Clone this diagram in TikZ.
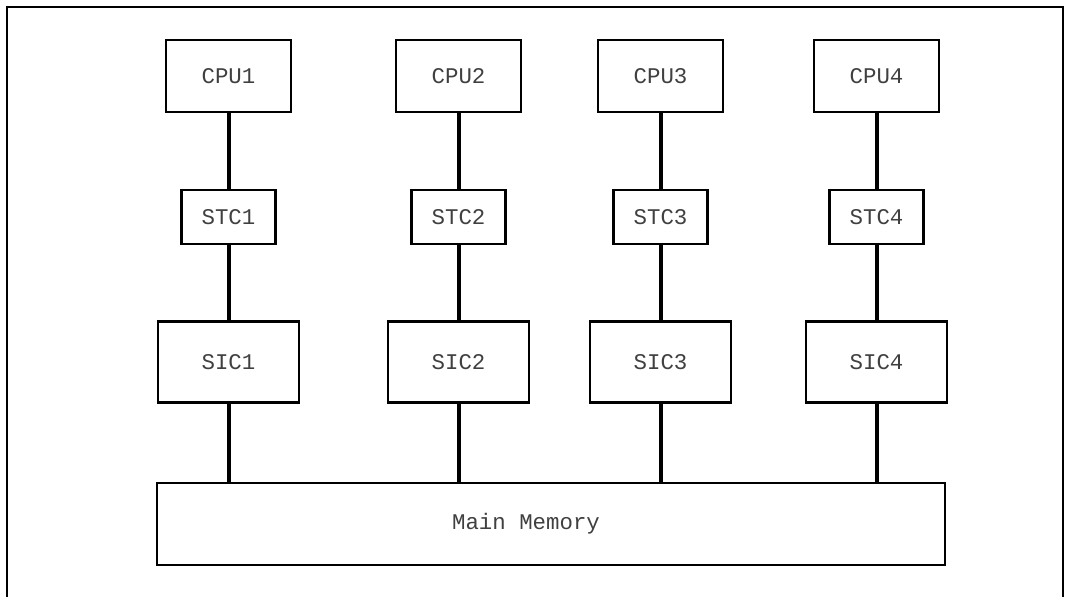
\documentclass[tikz,border=0pt]{standalone}
\usepackage{fontspec}
\setmonofont{Liberation Mono}
\usepackage{tikz}

\begin{document}
\begin{tikzpicture}[x=0.5pt, y=-0.5pt,
    unit/.style={draw, line width=1.25pt, inner sep=0pt, font=\ttfamily\fontsize{11.2}{13}\selectfont, text=black!75},
    cpubox/.style={unit, minimum width=62.5pt, minimum height=36pt},
    stcbox/.style={unit, minimum width=47pt, minimum height=27pt},
    sicbox/.style={unit, minimum width=70.5pt, minimum height=40.5pt},
    bus/.style={line width=2pt}]
        \useasboundingbox (0, 0) rectangle (1069, 597);
        \draw[line width=0.75pt] (7, 597) -- (7, 7) -- (1063, 7) -- (1063, 597);

        \node[unit, minimum width=394pt, minimum height=41pt] (mem) at (551, 524) {};
        \node[font=\ttfamily\fontsize{11.2}{13}\selectfont, text=black!75] (memtext) at (526, 524) {Main Memory};

        \foreach \n/\x in {1/228.5, 2/458.5, 3/660.5, 4/876.5} {
            \node[cpubox] (cpu\n) at (\x, 76)  {CPU\n};
            \node[stcbox] (stc\n) at (\x, 217) {STC\n};
            \node[sicbox] (sic\n) at (\x, 362) {SIC\n};

            \draw[bus] (cpu\n) -- (stc\n);
            \draw[bus] (stc\n) -- (sic\n);
            \draw[bus] (sic\n) -- (sic\n |- mem.north);
        }
      \end{tikzpicture}
\end{document}
